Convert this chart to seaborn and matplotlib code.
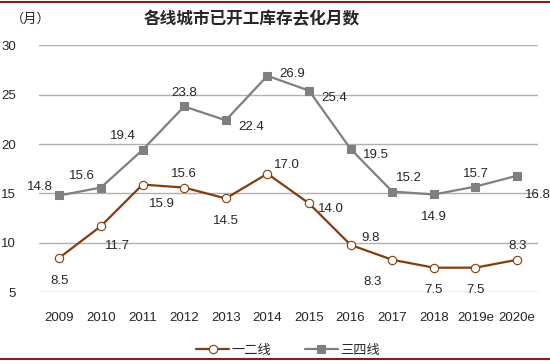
import numpy as np
import pandas as pd
import matplotlib
matplotlib.use("Agg")
import matplotlib.pyplot as plt
import seaborn as sns

years = ["2009", "2010", "2011", "2012", "2013", "2014", "2015", "2016",
         "2017", "2018", "2019e", "2020e"]
tier12 = [8.5, 11.7, 15.9, 15.6, 14.5, 17.0, 14.0, 9.8, 8.3, 7.5, 7.5, 8.3]
tier34 = [14.8, 15.6, 19.4, 23.8, 22.4, 26.9, 25.4, 19.5, 15.2, 14.9, 15.7, 16.8]

# label offsets (points) for each value label
off12 = [(0, -17), (12, -14), (14, -14), (0, 10), (0, -16), (14, 6),
         (16, -4), (14, 5), (-14, -16), (0, -16), (0, -16), (0, 10)]
off34 = [(-14, 6), (-14, 8), (-14, 10), (0, 10), (18, -5), (18, 1),
         (18, -5), (18, -4), (12, 10), (0, -16), (0, 9), (15, -14)]

sns.set_style("white")
plt.rcParams['font.family'] = ['Liberation Sans', 'Noto Sans CJK SC', 'DejaVu Sans']

df = pd.DataFrame({"year": years, "一二线": tier12, "三四线": tier34})

fig, ax = plt.subplots(figsize=(5.5, 3.61), dpi=100)
fig.subplots_adjust(left=0.07, right=0.978, top=0.875, bottom=0.19)

brown = "#843C0C"
gray = "#7F7F7F"
x = np.arange(len(years))

sns.lineplot(x=x, y=df["一二线"], ax=ax, color=brown, lw=1.6, marker="o",
             markersize=6, markerfacecolor="white", markeredgecolor=brown,
             markeredgewidth=0.8, label="一二线")
sns.lineplot(x=x, y=df["三四线"], ax=ax, color=gray, lw=1.6, marker="s",
             markersize=6, markerfacecolor=gray, markeredgecolor=gray,
             label="三四线")

for i in range(len(years)):
    ax.annotate(f"{tier12[i]:.1f}", (x[i], tier12[i]), xytext=off12[i],
                textcoords="offset points", ha="center", va="center", fontsize=9.5)
    ax.annotate(f"{tier34[i]:.1f}", (x[i], tier34[i]), xytext=off34[i],
                textcoords="offset points", ha="center", va="center", fontsize=9.5)

ax.set_ylim(5, 30)
ax.set_yticks([5, 10, 15, 20, 25, 30])
ax.set_xlim(-0.5, len(years) - 0.5)
ax.set_xticks(x)
ax.set_xticklabels(years)
ax.tick_params(axis="x", labelsize=9.5, length=0, pad=14)
ax.tick_params(axis="y", labelsize=9.5, length=0, pad=16)
ax.yaxis.grid(True, color="#B0B0B0", lw=1)
for s in ax.spines.values():
    s.set_visible(False)
ax.set_xlabel("")
ax.set_ylabel("")

fig.text(0.055, 0.947, "（月）", fontsize=9.5, ha="center", va="center",
         family=['Noto Sans CJK SC', 'DejaVu Sans'])
fig.text(0.458, 0.947, "各线城市已开工库存去化月数", fontsize=12, ha="center",
         va="center", fontweight="bold", family=['Noto Sans CJK SC', 'DejaVu Sans'])

leg = ax.legend(loc="upper center", bbox_to_anchor=(0.5, -0.16), ncol=2,
                frameon=False, handlelength=2.5, handletextpad=0.2,
                columnspacing=2.5,
                prop={'family': ['Noto Sans CJK SC', 'DejaVu Sans'], 'size': 9.5})

fig.add_artist(plt.Line2D([0, 1], [0.994, 0.994], color="#8B1A1A", lw=1.5))
fig.add_artist(plt.Line2D([0, 1], [0.006, 0.006], color="#8B1A1A", lw=1.5))

fig.savefig("out.png", dpi=100)
